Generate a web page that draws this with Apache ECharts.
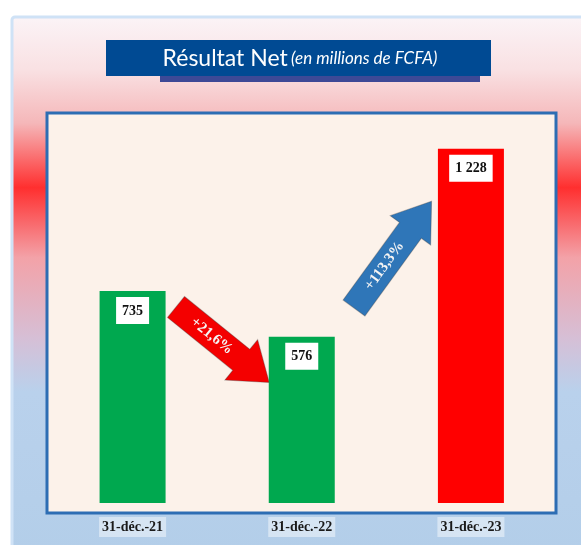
<!DOCTYPE html>
<html>
<head>
<meta charset="utf-8">
<script src="https://cdn.jsdelivr.net/npm/echarts@6/dist/echarts.min.js"></script>
<style>
  html, body { margin: 0; padding: 0; background: #ffffff; }
  #chart { width: 581px; height: 545px; }
</style>
</head>
<body>
<div id="chart"></div>
<script>
// data
const categories = ["31-déc.-21", "31-déc.-22", "31-déc.-23"];
const resultatNet = [735, 576, 1228];
const valueLabels = ["735", "576", "1 228"];
const barColors = ["#00a84f", "#00a84f", "#ff0000"];
const variations = ["+21,6%", "+113,3%"];

const serif = "'Liberation Serif', 'DejaVu Serif', serif";

// arrow shape (tail at 0,0, pointing to +x)
function arrow(x, y, angleDeg, len, shaftW, headW, headL, color, label) {
  const s = shaftW / 2, h = headW / 2, b = len - headL;
  return {
    type: "group",
    x: x,
    y: y,
    rotation: (angleDeg * Math.PI) / 180,
    z: 100,
    children: [
      {
        type: "polygon",
        shape: {
          points: [[0, -s], [b, -s], [b, -h], [len, 0], [b, h], [b, s], [0, s]],
        },
        style: { fill: color, stroke: "rgba(60,60,60,0.35)", lineWidth: 1 },
      },
      {
        type: "text",
        x: b / 2 + 4,
        y: 0,
        style: {
          text: label,
          fill: "#f4f4f4",
          font: "bold 15px " + serif,
          align: "center",
          verticalAlign: "middle",
        },
      },
    ],
  };
}

const chart = echarts.init(document.getElementById("chart"));

chart.setOption({
  backgroundColor: "#ffffff",
  animation: false,
  grid: { left: 48, right: 25.5, top: 119.3, bottom: 42 },
  xAxis: {
    type: "category",
    data: categories,
    axisLine: { show: false },
    axisTick: { show: false },
    axisLabel: {
      margin: 14,
      color: "#1a1a1a",
      fontFamily: serif,
      fontWeight: "bold",
      fontSize: 14,
      backgroundColor: "rgba(255,255,255,0.45)",
      padding: [3, 3],
    },
  },
  yAxis: {
    type: "value",
    min: 0,
    max: 1330,
    show: false,
    splitLine: { show: false },
  },
  series: [
    {
      type: "bar",
      barWidth: 66,
      data: resultatNet.map((v, i) => ({ value: v, itemStyle: { color: barColors[i] } })),
      label: {
        show: true,
        position: "insideTop",
        distance: 6,
        formatter: (p) => valueLabels[p.dataIndex],
        color: "#111",
        fontFamily: serif,
        fontWeight: "bold",
        fontSize: 14,
        backgroundColor: "#ffffff",
        padding: [7, 6, 6, 6],
      },
      z: 5,
    },
  ],
  graphic: [
    // outer panel
    {
      type: "rect",
      z: -20,
      shape: { x: 12, y: 17, width: 575, height: 535, r: 3 },
      style: {
        fill: new echarts.graphic.LinearGradient(0, 0, 0, 1, [
          { offset: 0, color: "#fbf4f7" },
          { offset: 0.1, color: "#f9e1e3" },
          { offset: 0.2, color: "#f5b7b9" },
          { offset: 0.32, color: "#ff2f2f" },
          { offset: 0.45, color: "#f3a2a8" },
          { offset: 0.6, color: "#d6bfd6" },
          { offset: 0.7, color: "#b9d1ec" },
          { offset: 1, color: "#b3cee9" },
        ]),
        stroke: "#cfe2f6",
        lineWidth: 3,
      },
    },
    // plot frame
    {
      type: "rect",
      z: -10,
      shape: { x: 47, y: 113, width: 509, height: 400 },
      style: { fill: "#fcf2ea", stroke: "#2d6db3", lineWidth: 3 },
    },
    // title shadow + box
    {
      type: "rect",
      z: -5,
      shape: { x: 160, y: 50, width: 320, height: 32 },
      style: { fill: "#1c2f8a", opacity: 0.85 },
    },
    {
      type: "rect",
      z: -4,
      shape: { x: 106, y: 40, width: 385, height: 36 },
      style: { fill: "#004a93" },
    },
    {
      type: "text",
      z: -3,
      x: 300,
      y: 59,
      style: {
        text: "{a|Résultat Net} {b|(en millions de FCFA)}",
        align: "center",
        verticalAlign: "middle",
        rich: {
          a: { fill: "#ffffff", fontSize: 23, fontFamily: "Lato, 'Open Sans', sans-serif" },
          b: { fill: "#ffffff", fontSize: 17, fontStyle: "italic", fontFamily: "Lato, 'Open Sans', sans-serif" },
        },
      },
    },
    arrow(176, 307, -39, 120, 27, 52, 36, "#f40000", variations[0]),
    arrow(354, 308, 54, 132, 27, 50, 36, "#2f76b8", variations[1]),
  ],
});
</script>
</body>
</html>
